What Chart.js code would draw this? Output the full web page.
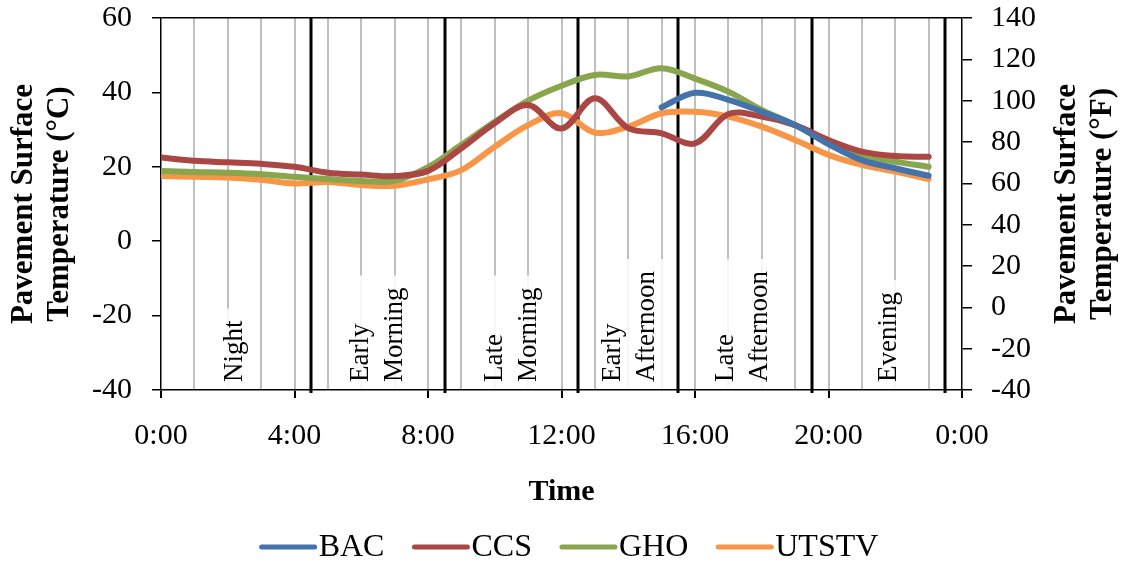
<!DOCTYPE html>
<html>
<head>
<meta charset="utf-8">
<script src="https://cdn.jsdelivr.net/npm/chart.js@4.4.1/dist/chart.umd.min.js"></script>
<style>
  html, body { margin: 0; padding: 0; background: #fff; }
</style>
</head>
<body>
<canvas id="chart" width="1127" height="565"></canvas>
<script>
// hourly readings, 0:00 .. 23:00 (deg C)
const hours = [0, 1, 2, 3, 4, 5, 6, 7, 8, 9, 10, 11, 12, 13, 14, 15, 16, 17, 18, 19, 20, 21, 22, 23];
const bac   = [null, null, null, null, null, null, null, null, null, null, null, null, null, null, null,
               36.0, 39.9, 38.0, 34.8, 31.2, 26.1, 21.8, 19.6, 17.6];
const ccs   = [22.5, 21.6, 21.2, 20.8, 20.0, 18.4, 17.9, 17.5, 18.9, 25.0, 31.7, 36.6,
               30.3, 38.4, 30.4, 29.0, 26.3, 34.2, 33.5, 31.2, 27.2, 24.1, 22.9, 22.7];
const gho   = [18.9, 18.6, 18.4, 18.0, 17.3, 16.7, 16.2, 16.2, 19.9, 25.9, 32.1, 37.8,
               41.8, 44.7, 44.3, 46.5, 43.7, 40.2, 35.3, 31.2, 26.7, 23.2, 21.4, 20.0];
const utstv = [17.5, 17.3, 17.1, 16.5, 15.5, 15.9, 15.1, 14.9, 16.6, 19.1, 25.4, 31.2,
               34.4, 29.2, 30.8, 34.4, 34.8, 33.5, 30.8, 27.2, 23.2, 20.5, 18.7, 16.7];

// time-of-day periods
const dividers = [4.5, 8.5, 12.5, 15.5, 19.5, 23.5];
const periodNames = [['Night'], ['Early', 'Morning'], ['Late', 'Morning'],
                     ['Early', 'Afternoon'], ['Late', 'Afternoon'], ['Evening']];
const periodCenters = [2.2, 6.5, 10.5, 14.05, 17.45, 21.8];

const serif = "'Liberation Serif', 'Times New Roman', serif";
Chart.defaults.font.family = serif;
Chart.defaults.font.size = 30;
Chart.defaults.color = '#000';

const toPoints = arr => hours.map((h, i) => ({ x: h, y: arr[i] }));

const periodPlugin = {
  id: 'periods',
  beforeDatasetsDraw(chart) {
    const { ctx, chartArea } = chart;
    const xs = chart.scales.x;
    ctx.save();
    // thick period boundaries
    ctx.strokeStyle = '#000';
    ctx.lineWidth = 3;
    dividers.forEach(d => {
      const px = Math.round(xs.getPixelForValue(d));
      ctx.beginPath();
      ctx.moveTo(px, chartArea.top);
      ctx.lineTo(px, chartArea.bottom + 3);
      ctx.stroke();
    });
    // rotated period names on white boxes
    ctx.font = '27px ' + serif;
    const gap = 34;
    const base = chartArea.bottom - 8;
    periodNames.forEach((lines, i) => {
      const cx = xs.getPixelForValue(periodCenters[i]);
      const x0 = cx - (lines.length - 1) * gap / 2;
      const w = Math.max(...lines.map(t => ctx.measureText(t).width));
      ctx.fillStyle = 'rgba(255,255,255,0.85)';
      ctx.fillRect(x0 - 16, base - w - 12, (lines.length - 1) * gap + 32, chartArea.bottom - (base - w - 12) - 1);
      ctx.fillStyle = '#000';
      ctx.textAlign = 'left';
      ctx.textBaseline = 'middle';
      lines.forEach((t, j) => {
        ctx.save();
        ctx.translate(x0 + j * gap, base);
        ctx.rotate(-Math.PI / 2);
        ctx.fillText(t, 0, 0);
        ctx.restore();
      });
    });
    ctx.restore();
  },
  afterDraw(chart) {
    const { ctx, chartArea } = chart;
    ctx.save();
    ctx.fillStyle = '#000';
    ctx.font = 'bold 31px ' + serif;
    ctx.textAlign = 'center';
    ctx.textBaseline = 'middle';
    const cy = (chartArea.top + chartArea.bottom) / 2;
    const titles = [
      [chartArea.left - 137, 'Pavement Surface'], [chartArea.left - 101, 'Temperature (\u00B0C)'],
      [chartArea.right + 105, 'Pavement Surface'], [chartArea.right + 141, 'Temperature (\u00B0F)']
    ];
    titles.forEach(([x, t]) => {
      ctx.save();
      ctx.translate(x, cy);
      ctx.rotate(-Math.PI / 2);
      ctx.fillText(t, 0, 0);
      ctx.restore();
    });

    // legend
    ctx.font = '32px ' + serif;
    ctx.textAlign = 'left';
    const sets = chart.data.datasets;
    const lineLen = 57, textGap = 2, itemGap = 28;
    let total = 0;
    sets.forEach((d, i) => {
      total += lineLen + textGap + ctx.measureText(d.label).width + (i < sets.length - 1 ? itemGap : 0);
    });
    let x = 569 - total / 2;
    const y = 547;
    sets.forEach(d => {
      ctx.strokeStyle = d.borderColor;
      ctx.lineWidth = 5;
      ctx.lineCap = 'round';
      ctx.beginPath();
      ctx.moveTo(x + 2, y);
      ctx.lineTo(x + lineLen - 2, y);
      ctx.stroke();
      x += lineLen + textGap;
      ctx.fillText(d.label, x, y + 1);
      x += ctx.measureText(d.label).width + itemGap;
    });
    ctx.restore();
  }
};

const lineStyle = { borderWidth: 6, pointRadius: 0, tension: 0.35, fill: false,
                    borderCapStyle: 'round', borderJoinStyle: 'round', spanGaps: false };

// keep the plot frame fixed: y tick padding should not push the chart area down
const fixVertical = width => s => { s.width = width; s.paddingTop = 18; s.paddingBottom = 18; };

new Chart(document.getElementById('chart'), {
  type: 'line',
  data: {
    datasets: [
      { label: 'BAC', data: toPoints(bac), borderColor: '#4472AA', ...lineStyle },
      { label: 'CCS', data: toPoints(ccs), borderColor: '#AA4643', ...lineStyle },
      { label: 'GHO', data: toPoints(gho), borderColor: '#89A54E', ...lineStyle },
      { label: 'UTSTV', data: toPoints(utstv), borderColor: '#F79646', ...lineStyle }
    ]
  },
  options: {
    responsive: false,
    animation: false,
    layout: { padding: { top: 18, bottom: 50, left: 0, right: 0 } },
    plugins: { legend: { display: false }, tooltip: { enabled: false } },
    scales: {
      x: {
        type: 'linear',
        min: 0,
        max: 24,
        ticks: {
          stepSize: 1,
          autoSkip: false,
          maxRotation: 0,
          padding: 20,
          callback: v => (v % 4 === 0 ? (v % 24) + ':00' : '')
        },
        grid: {
          color: c => (c.tick && (c.tick.value === 0 || c.tick.value === 24) ? 'rgba(0,0,0,0)' : '#BFBFBF'),
          tickColor: c => (c.tick && c.tick.value % 4 === 0 ? '#000' : 'rgba(0,0,0,0)'),
          lineWidth: 2,
          tickLength: 8
        },
        border: { color: '#000', width: 1.5 },
        title: { display: true, text: 'Time', font: { weight: 'bold', size: 30 }, padding: { top: 0, bottom: 5 } },
        afterFit: s => { s.height = 125; }
      },
      y: {
        position: 'left',
        min: -40,
        max: 60,
        ticks: { stepSize: 20, padding: 20 },
        grid: {
          color: c => (c.tick && c.tick.value === 60 ? '#000' : 'rgba(0,0,0,0)'),
          tickColor: '#000',
          lineWidth: 1.5,
          tickLength: 9
        },
        border: { color: '#000', width: 1.5 },
        afterFit: fixVertical(161)
      },
      y1: {
        position: 'right',
        display: true,
        min: -40,
        max: 140,
        ticks: { stepSize: 20, padding: 19 },
        grid: { drawOnChartArea: false, color: '#000', lineWidth: 1.5, tickLength: 10 },
        border: { color: '#000', width: 1.5 },
        afterFit: fixVertical(165)
      }
    }
  },
  plugins: [periodPlugin]
});
</script>
</body>
</html>
